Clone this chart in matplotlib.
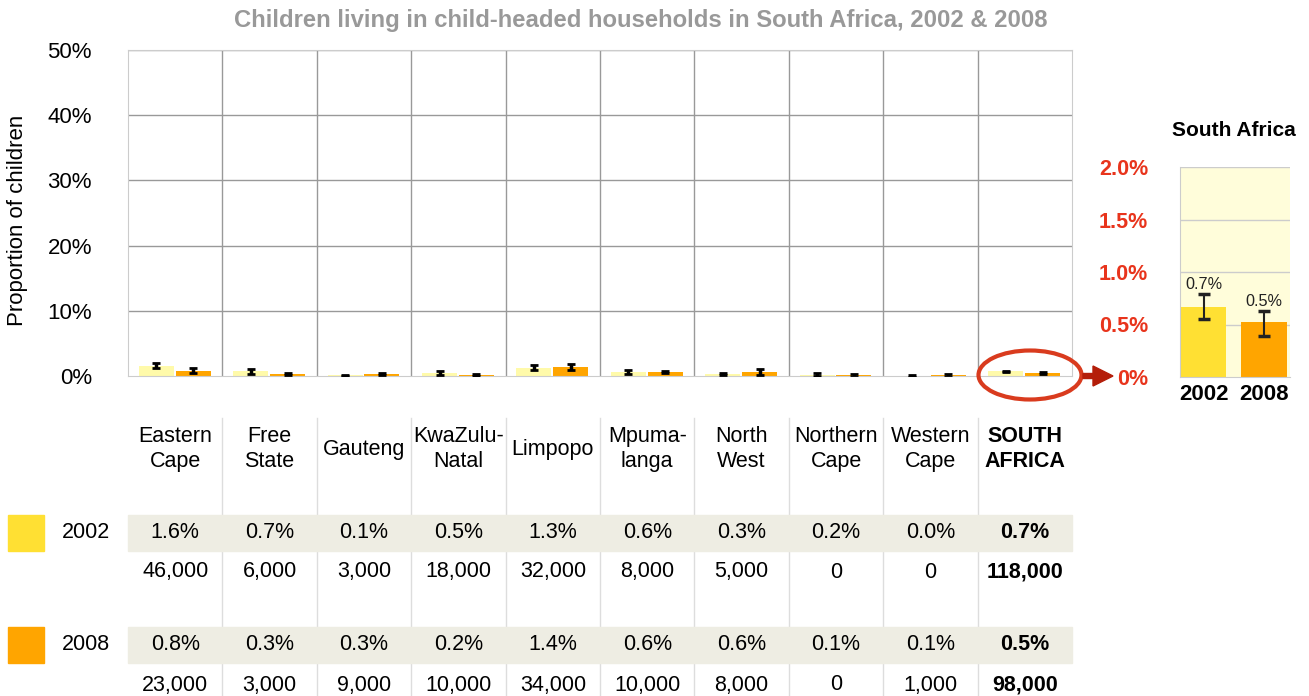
import matplotlib.pyplot as plt
import numpy as np
from matplotlib.patches import Ellipse, Rectangle

plt.rcParams['font.family'] = ['Liberation Sans', 'DejaVu Sans']

# data
regions = ["Eastern\nCape", "Free\nState", "Gauteng", "KwaZulu-\nNatal", "Limpopo",
           "Mpuma-\nlanga", "North\nWest", "Northern\nCape", "Western\nCape", "SOUTH\nAFRICA"]
pct_2002 = [1.6, 0.7, 0.1, 0.5, 1.3, 0.6, 0.3, 0.2, 0.0, 0.7]
pct_2008 = [0.8, 0.3, 0.3, 0.2, 1.4, 0.6, 0.6, 0.1, 0.1, 0.5]
err_2002 = [0.4, 0.35, 0.1, 0.3, 0.45, 0.3, 0.2, 0.2, 0.1, 0.12]
err_2008 = [0.4, 0.2, 0.15, 0.15, 0.45, 0.2, 0.4, 0.2, 0.2, 0.12]
n_2002 = ["46,000", "6,000", "3,000", "18,000", "32,000", "8,000", "5,000", "0", "0", "118,000"]
n_2008 = ["23,000", "3,000", "9,000", "10,000", "34,000", "10,000", "8,000", "0", "1,000", "98,000"]

# South Africa inset
sa_years = ["2002", "2008"]
sa_bar = [0.67, 0.52]
sa_lo = [0.55, 0.39]
sa_hi = [0.79, 0.63]
sa_labels = ["0.7%", "0.5%"]

c02_pale = '#FFFAAA'
c02 = '#FFE033'
c08 = '#FFA500'
red = '#E8341C'
fs = 15.5  # table text size

W, H = 1309, 696
fig = plt.figure(figsize=(W / 100, H / 100), dpi=100)

# main chart
ax = fig.add_axes([128 / W, 1 - 376 / H, 944 / W, 326 / H])
x = np.arange(len(regions))
ax.bar(x - 0.2, pct_2002, width=0.37, color=c02_pale, zorder=2)
ax.bar(x + 0.19, pct_2008, width=0.37, color=c08, zorder=2)
ax.errorbar(x - 0.2, pct_2002, yerr=err_2002, fmt='none', ecolor='black',
            elinewidth=2.5, capsize=3, capthick=2, zorder=3)
ax.errorbar(x + 0.19, pct_2008, yerr=err_2008, fmt='none', ecolor='black',
            elinewidth=2.5, capsize=3, capthick=2, zorder=3)
ax.set_xlim(-0.5, len(regions) - 0.5)
ax.set_ylim(0, 50)
ax.set_yticks(range(0, 51, 10))
ax.set_yticklabels([f"{v}%" for v in range(0, 51, 10)], fontsize=16)
ax.set_xticks([])
ax.tick_params(axis='y', length=0, pad=26)
for v in range(10, 51, 10):
    ax.axhline(v, color='#999999', lw=1, zorder=1)
for k in range(1, len(regions)):
    ax.axvline(k - 0.5, color='#999999', lw=1, zorder=1)
for s in ax.spines.values():
    s.set_color('#cccccc')
fig.text(18 / W, 1 - 220 / H, "Proportion of children", rotation=90,
         ha='center', va='center', fontsize=16)

fig.text(641 / W, 1 - 20 / H, "Children living in child-headed households in South Africa, 2002 & 2008",
         ha='center', va='center', fontsize=17.2, fontweight='bold', color='#999999')

# inset for South Africa
ax2 = fig.add_axes([1180 / W, 1 - 377 / H, 110 / W, 210 / H])
ax2.set_facecolor('#FFFDDA')
xi = np.arange(len(sa_years))
ax2.bar(xi, sa_bar, width=0.75, color=[c02, c08], zorder=2)
ax2.errorbar(xi, sa_bar,
             yerr=[np.array(sa_bar) - np.array(sa_lo), np.array(sa_hi) - np.array(sa_bar)],
             fmt='none', ecolor='#222222', elinewidth=1.5, capsize=4, capthick=2.5, zorder=3)
for i, lab in enumerate(sa_labels):
    ax2.text(xi[i], sa_hi[i] + 0.02, lab, ha='center', va='bottom', fontsize=11.7, color='#222222')
ax2.set_xlim(-0.39, 1.43)
ax2.set_ylim(0, 2.0)
ax2.set_yticks([0, 0.5, 1.0, 1.5, 2.0])
ax2.set_yticklabels(["0%", "0.5%", "1.0%", "1.5%", "2.0%"], fontsize=15.5,
                    fontweight='bold', color=red)
ax2.set_xticks(xi)
ax2.set_xticklabels(sa_years, fontsize=16, fontweight='bold')
ax2.tick_params(axis='y', length=0, pad=23)
ax2.tick_params(axis='x', length=0, pad=5)
for v in [0.5, 1.0, 1.5, 2.0]:
    ax2.axhline(v, color='#cccccc', lw=1, zorder=1)
ax2.spines['right'].set_visible(False)
ax2.spines['top'].set_visible(False)
ax2.spines['left'].set_color('#cccccc')
ax2.spines['bottom'].set_color('#cccccc')
fig.text(1234 / W, 1 - 130 / H, "South Africa", ha='center', va='center',
         fontsize=15, fontweight='bold')

# overlay for table, legend and callout
ov = fig.add_axes([0, 0, 1, 1], zorder=5)
ov.set_xlim(0, W)
ov.set_ylim(H, 0)
ov.axis('off')

col_w = 944 / len(regions)
cx = [128 + col_w * (i + 0.5) for i in range(len(regions))]

for k in range(1, len(regions)):
    ov.plot([128 + col_w * k] * 2, [418, H], color='#dddddd', lw=1, zorder=1)
for y0 in [515, 627]:
    ov.add_patch(Rectangle((128, y0), 944, 36, color='#EEEDE3', zorder=2))
ov.add_patch(Rectangle((8, 515), 36, 36, color=c02, zorder=2))
ov.add_patch(Rectangle((8, 627), 36, 36, color=c08, zorder=2))
ov.text(86, 533, "2002", ha='center', va='center', fontsize=fs, zorder=3)
ov.text(86, 645, "2008", ha='center', va='center', fontsize=fs, zorder=3)

last = len(regions) - 1
for i in range(len(regions)):
    fw = 'bold' if i == last else 'normal'
    ov.text(cx[i], 449, regions[i], ha='center', va='center', fontsize=fs,
            fontweight=fw, linespacing=1.2, zorder=3)
    ov.text(cx[i], 533, f"{pct_2002[i]:.1f}%", ha='center', va='center', fontsize=fs,
            fontweight=fw, zorder=3)
    ov.text(cx[i], 572, n_2002[i], ha='center', va='center', fontsize=fs,
            fontweight=fw, zorder=3)
    ov.text(cx[i], 645, f"{pct_2008[i]:.1f}%", ha='center', va='center', fontsize=fs,
            fontweight=fw, zorder=3)
    ov.text(cx[i], 685, n_2008[i], ha='center', va='center', fontsize=fs,
            fontweight=fw, zorder=3)

ov.add_patch(Ellipse((1030, 375), 103, 49, fill=False, ec='#D93B1E', lw=3, zorder=4))
ov.arrow(1083, 376, 30, 0, width=5, head_width=20, head_length=20,
         length_includes_head=True, color='#B41E0A', zorder=4)

fig.savefig("out.png", dpi=100)
